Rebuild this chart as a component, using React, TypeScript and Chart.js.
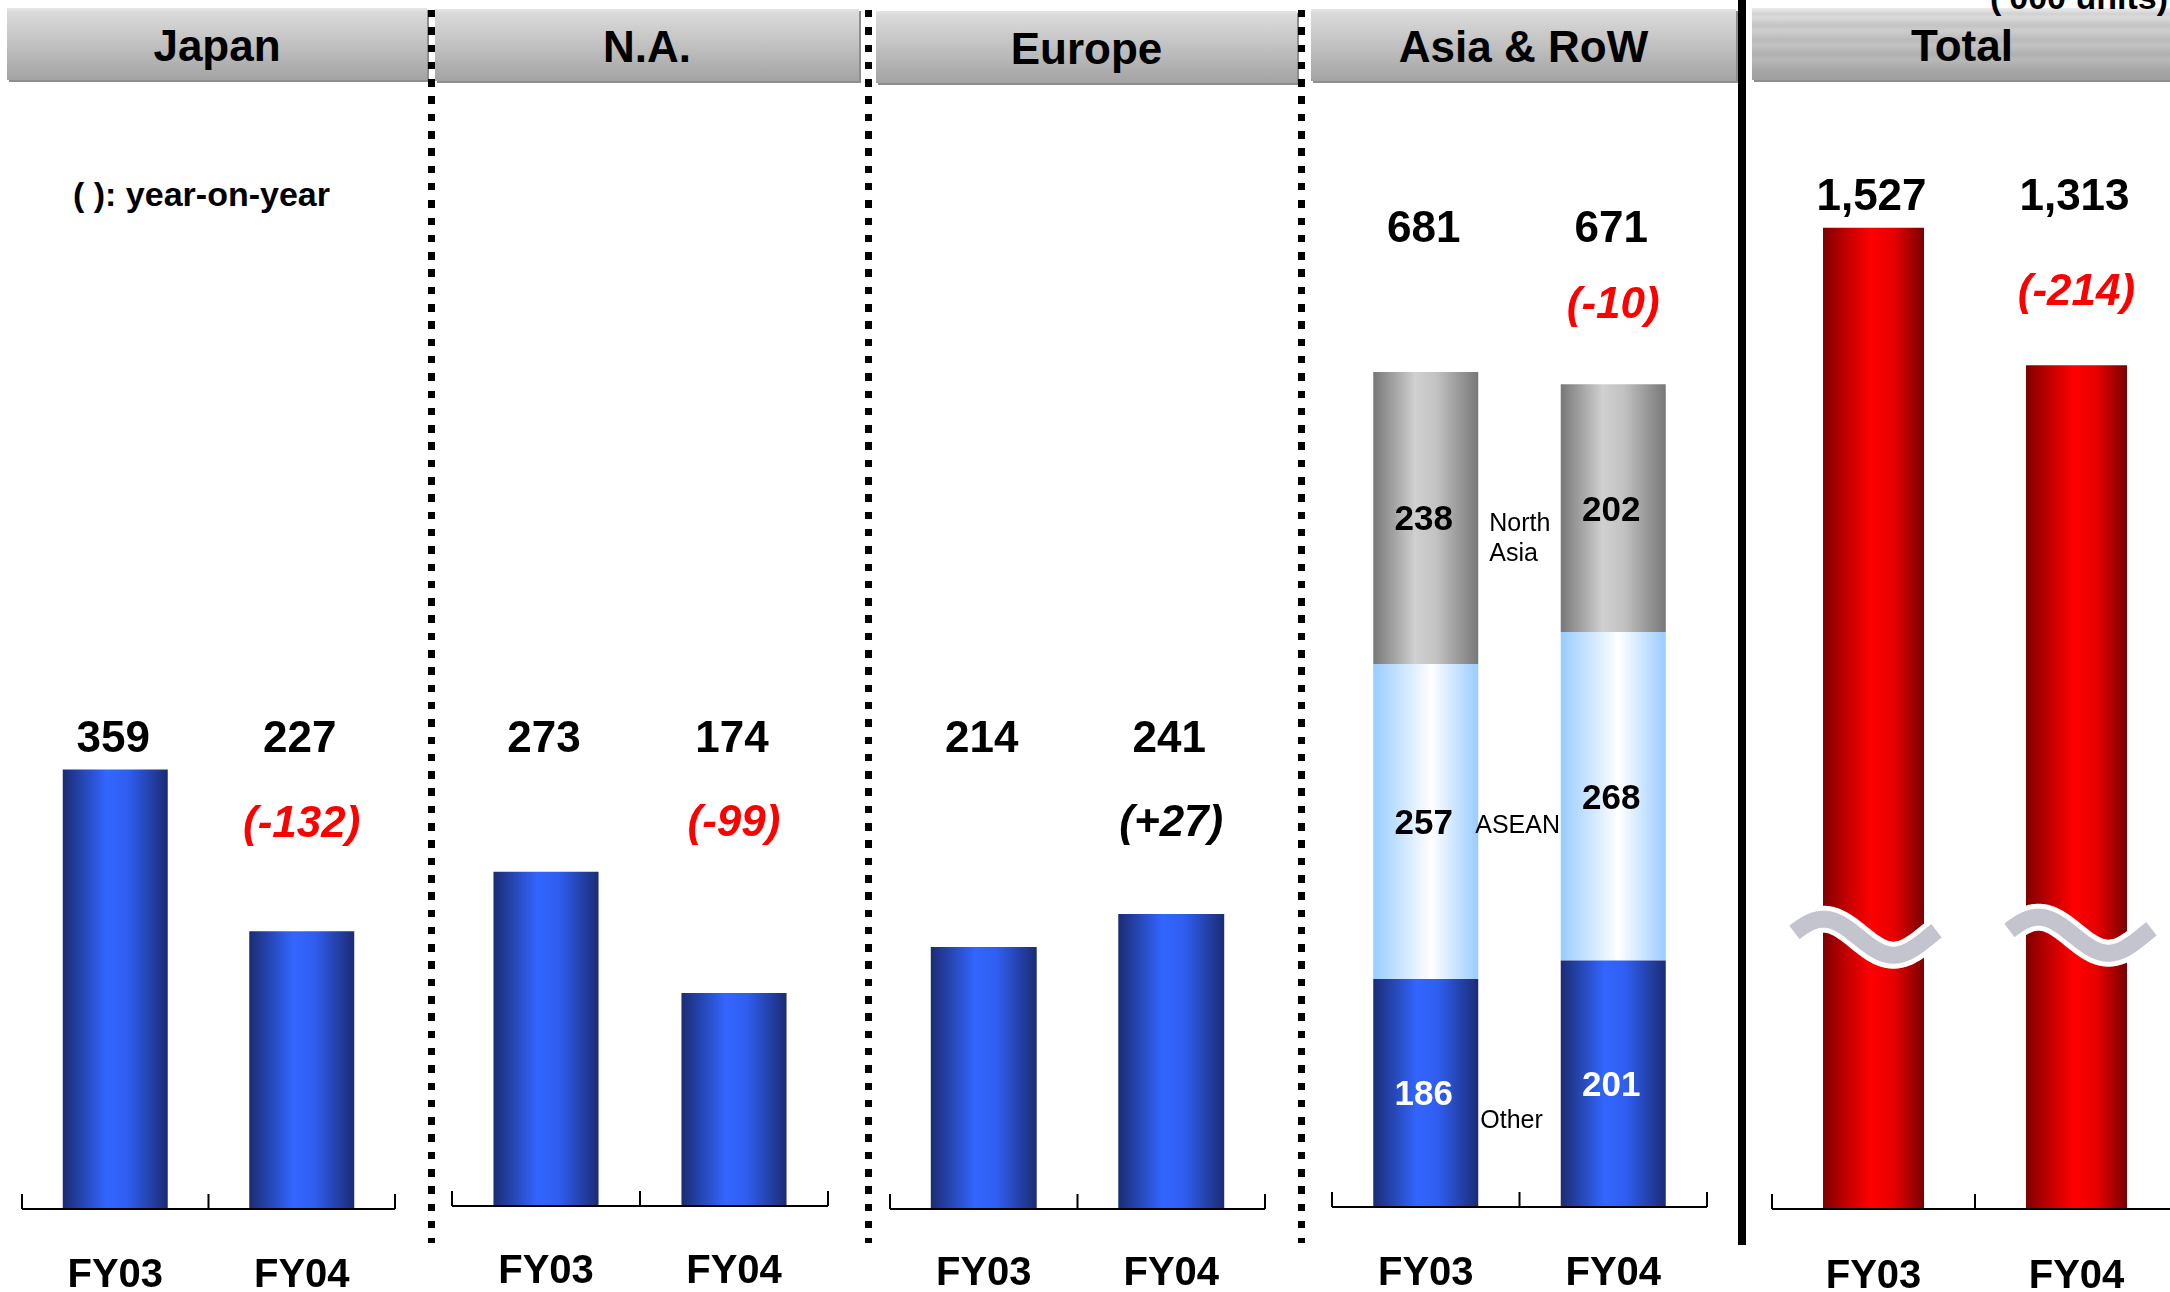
import React, { useEffect, useRef } from 'react';
import { Chart, registerables } from 'chart.js';

Chart.register(...registerables);

const FONT = "'Liberation Sans', Arial, Helvetica, sans-serif";

// ---------------- data ----------------
const categories = ['FY03', 'FY04'];
const panelTitles = ['Japan', 'N.A.', 'Europe', 'Asia & RoW', 'Total'];
const japanUnits = [359, 227];
const naUnits = [273, 174];
const europeUnits = [214, 241];
const asiaOther = [186, 201];
const asiaAsean = [257, 268];
const asiaNorthAsia = [238, 202];
const totalUnits = [1527, 1313];
const asiaSegmentNames = ['Other', 'ASEAN', 'North\nAsia'];
const unitNote = "('000 units)";
const yoyNote = '( ): year-on-year';
const totalBreakValue = 423;

// ---------------- styles ----------------
const BLUE: [number, string][] = [[0, '#1b2c74'], [0.42, '#3366ff'], [0.62, '#2f5ef0'], [1, '#1b2c74']];
const LIGHT: [number, string][] = [[0, '#99ccff'], [0.55, '#ffffff'], [1, '#99ccff']];
const GREY: [number, string][] = [[0, '#787878'], [0.4, '#d0d0d0'], [0.6, '#c2c2c2'], [1, '#777777']];
const RED: [number, string][] = [[0, '#800000'], [0.25, '#c80000'], [0.48, '#ff0000'], [0.7, '#e80000'], [1, '#7a0000']];

const PAD = 20;
const TOP = 100;
const H = 1292;

type Layout = {
  axisLeft: number; axisRight: number; baseline: number; pxPerUnit: number; catPct: number;
  valueY: number; changeY: number; catBaseline: number;
};

const layouts: Record<string, Layout> = {
  japan: { axisLeft: 22, axisRight: 395, baseline: 1209, pxPerUnit: 1.224, catPct: 0.563, valueY: 736, changeY: 821, catBaseline: 1287 },
  na: { axisLeft: 452, axisRight: 828, baseline: 1206, pxPerUnit: 1.224, catPct: 0.559, valueY: 736, changeY: 820, catBaseline: 1283 },
  europe: { axisLeft: 890, axisRight: 1265, baseline: 1209, pxPerUnit: 1.224, catPct: 0.565, valueY: 736, changeY: 820, catBaseline: 1285 },
  asia: { axisLeft: 1332, axisRight: 1707, baseline: 1207, pxPerUnit: 1.226, catPct: 0.56, valueY: 226, changeY: 302, catBaseline: 1285 },
  total: { axisLeft: 1772, axisRight: 2178, baseline: 1209, pxPerUnit: 0.6426, catPct: 0.4975, valueY: 194, changeY: 289, catBaseline: 1288 },
};

const headerBoxes = [
  { x: 7, y: 8, w: 420, h: 72 },
  { x: 435, y: 9, w: 424, h: 72 },
  { x: 876, y: 11, w: 421, h: 72 },
  { x: 1311, y: 9, w: 425, h: 72 },
  { x: 1752, y: 8, w: 420, h: 72 },
];

const dottedDividers = [431.5, 868, 1301];
const solidDivider = 1742;

const fmt = (v: number) => v.toLocaleString('en-US');

const gradientFill = (stops: [number, string][], catPct: number) => (c: any) => {
  const chart = c.chart;
  const xs = chart.scales && chart.scales.x;
  if (!xs || !chart.chartArea || c.dataIndex === undefined) return stops[1][1];
  const cx = xs.getPixelForValue(c.dataIndex);
  const w = (xs.width / categories.length) * catPct;
  const g = chart.ctx.createLinearGradient(cx - w / 2, 0, cx + w / 2, 0);
  stops.forEach(([o, col]) => g.addColorStop(o, col));
  return g;
};

type Spec = {
  key: string;
  layout: Layout;
  series: { name: string; data: number[]; fill: [number, string][] }[];
  stacked: boolean;
  totals: number[];
  extra?: (chart: any, layout: Layout) => void;
};

const drawBreak = (ctx: CanvasRenderingContext2D, cx: number, cy: number) => {
  ctx.beginPath();
  for (let t = -79; t <= 63; t += 2) {
    const px = cx + t;
    const py = cy + 18 * Math.sin((Math.PI * (t + 15)) / 70);
    if (t === -79) ctx.moveTo(px, py); else ctx.lineTo(px, py);
  }
  ctx.lineCap = 'butt';
  ctx.lineJoin = 'round';
  ctx.strokeStyle = '#ffffff';
  ctx.lineWidth = 27;
  ctx.stroke();
  ctx.strokeStyle = '#c3c4ce';
  ctx.lineWidth = 17;
  ctx.stroke();
};

const breakOffsets = [{ dx: 0, dy: 0 }, { dx: 12, dy: -2 }];

const asiaLegendOffsets = [
  { dx: 2, dy: 35 },
  { dx: -3, dy: 12 },
  { dx: 11, dy: 13.5 },
];

const asiaExtra = (chart: any, layout: Layout) => {
  const { ctx, scales: { x, y } } = chart;
  const w = (x.width / categories.length) * layout.catPct;
  const series = [asiaOther, asiaAsean, asiaNorthAsia];
  const colors = ['#ffffff', '#000000', '#000000'];
  ctx.textAlign = 'center';
  ctx.textBaseline = 'alphabetic';
  ctx.font = `bold 35px ${FONT}`;
  categories.forEach((_, i) => {
    let cum = 0;
    series.forEach((s, k) => {
      const mid = y.getPixelForValue(cum + s[i] / 2);
      cum += s[i];
      ctx.fillStyle = colors[k];
      ctx.fillText(String(s[i]), x.getPixelForValue(i) - 2, mid + 12.5);
    });
  });
  // segment names between bars
  ctx.font = `25px ${FONT}`;
  ctx.textAlign = 'left';
  ctx.fillStyle = '#000';
  const barRight = x.getPixelForValue(0) + w / 2;
  let cum = 0;
  series.forEach((s, k) => {
    const mid = y.getPixelForValue(cum + s[0] / 2);
    cum += s[0];
    const lines = asiaSegmentNames[k].split('\n');
    lines.forEach((ln, j) => {
      ctx.fillText(ln, barRight + asiaLegendOffsets[k].dx, mid + asiaLegendOffsets[k].dy + j * 30);
    });
  });
};

const totalExtra = (chart: any) => {
  const { ctx, scales: { x, y } } = chart;
  categories.forEach((_, i) => {
    drawBreak(ctx, x.getPixelForValue(i) + breakOffsets[i].dx, y.getPixelForValue(totalBreakValue) + breakOffsets[i].dy);
  });
};

const specs: Spec[] = [
  { key: 'japan', layout: layouts.japan, series: [{ name: panelTitles[0], data: japanUnits, fill: BLUE }], stacked: false, totals: japanUnits },
  { key: 'na', layout: layouts.na, series: [{ name: panelTitles[1], data: naUnits, fill: BLUE }], stacked: false, totals: naUnits },
  { key: 'europe', layout: layouts.europe, series: [{ name: panelTitles[2], data: europeUnits, fill: BLUE }], stacked: false, totals: europeUnits },
  {
    key: 'asia', layout: layouts.asia, stacked: true,
    series: [
      { name: asiaSegmentNames[0], data: asiaOther, fill: BLUE },
      { name: asiaSegmentNames[1], data: asiaAsean, fill: LIGHT },
      { name: asiaSegmentNames[2], data: asiaNorthAsia, fill: GREY },
    ],
    totals: categories.map((_, i) => asiaOther[i] + asiaAsean[i] + asiaNorthAsia[i]),
    extra: asiaExtra,
  },
  { key: 'total', layout: layouts.total, series: [{ name: panelTitles[4], data: totalUnits, fill: RED }], stacked: false, totals: totalUnits, extra: totalExtra },
];

function Panel({ spec }: { spec: Spec }) {
  const ref = useRef<HTMLCanvasElement | null>(null);
  const L = spec.layout;
  const width = L.axisRight - L.axisLeft + 2 * PAD;
  useEffect(() => {
    if (!ref.current) return;
    const overlay = {
      id: 'overlay_' + spec.key,
      afterDatasetsDraw(chart: any) {
        const { ctx, chartArea, scales: { x } } = chart;
        ctx.save();
        if (spec.extra) spec.extra(chart, L);
        // axis line with upward ticks
        const by = chartArea.bottom;
        const lx = x.getPixelForValue(-0.5);
        const mx = x.getPixelForValue(0.5);
        const rx = x.getPixelForValue(1.5);
        ctx.strokeStyle = '#000';
        ctx.lineWidth = 2;
        ctx.lineCap = 'butt';
        ctx.beginPath();
        ctx.moveTo(lx, by);
        ctx.lineTo(rx, by);
        [lx, mx, rx].forEach((t) => { ctx.moveTo(t, by); ctx.lineTo(t, by - 15); });
        ctx.stroke();
        // category labels
        ctx.fillStyle = '#000';
        ctx.textAlign = 'center';
        ctx.textBaseline = 'alphabetic';
        ctx.font = `bold 40px ${FONT}`;
        categories.forEach((c, i) => ctx.fillText(c, x.getPixelForValue(i), L.catBaseline));
        // value labels
        ctx.font = `bold 44px ${FONT}`;
        spec.totals.forEach((v, i) => ctx.fillText(fmt(v), x.getPixelForValue(i) - 2, L.valueY + 15.75));
        // year-on-year change
        const diff = spec.totals[1] - spec.totals[0];
        ctx.font = `italic bold 44px ${FONT}`;
        ctx.fillStyle = diff < 0 ? '#ff0000' : '#000000';
        ctx.fillText(`(${diff > 0 ? '+' : ''}${diff})`, x.getPixelForValue(1), L.changeY + 15.75);
        ctx.restore();
      },
    };
    const chart = new Chart(ref.current, {
      type: 'bar',
      data: {
        labels: categories,
        datasets: spec.series.map((s) => ({
          label: s.name,
          data: s.data,
          backgroundColor: gradientFill(s.fill, L.catPct),
          borderWidth: 0,
          categoryPercentage: L.catPct,
          barPercentage: 1,
        })),
      },
      options: {
        responsive: false,
        animation: false,
        devicePixelRatio: 1,
        events: [],
        layout: { padding: { left: PAD, right: PAD, top: TOP, bottom: H - L.baseline } },
        plugins: { legend: { display: false }, tooltip: { enabled: false }, title: { display: false } },
        scales: {
          x: { type: 'category', display: false, stacked: spec.stacked, offset: true },
          y: { type: 'linear', display: false, stacked: spec.stacked, min: 0, max: (L.baseline - TOP) / L.pxPerUnit },
        },
      } as any,
      plugins: [overlay],
    });
    return () => chart.destroy();
  }, []);
  return (
    <canvas
      ref={ref}
      width={width}
      height={H}
      style={{ position: 'absolute', left: L.axisLeft - PAD, top: 0, width, height: H }}
    />
  );
}

export default function App() {
  useEffect(() => {
    document.body.style.margin = '0';
  }, []);
  return (
    <div style={{ position: 'fixed', left: 0, top: 0, width: 2170, height: H, overflow: 'hidden', background: '#fff', fontFamily: FONT }}>
      {headerBoxes.map((b, i) => (
        <div
          key={'h' + i}
          style={{
            position: 'absolute', left: b.x, top: b.y, width: b.w, height: b.h,
            background: i === 4
              ? 'linear-gradient(to bottom, #ececec 0%, #d2d2d2 8%, #dadada 13%, #c4c4c4 24%, #cdcdcd 32%, #bababa 44%, #c2c2c2 52%, #b0b0b0 64%, #b8b8b8 72%, #a6a6a6 86%, #a0a0a0 100%)'
              : 'linear-gradient(to bottom, #e6e6e6 0%, #dadada 6%, #c4c4c4 45%, #a3a3a3 100%)',
            boxShadow: '2px 2px 0 #8e8e8e',
            textAlign: 'center', lineHeight: b.h + 'px', fontSize: 44, fontWeight: 'bold', color: '#000',
          }}
        >
          <span style={{ position: 'relative', top: 2 }}>{panelTitles[i]}</span>
        </div>
      ))}
      {dottedDividers.map((x, i) => (
        <div
          key={'d' + i}
          style={{
            position: 'absolute', left: x - 3.5, top: 10, width: 7, height: 1233,
            background: 'repeating-linear-gradient(to bottom, #000 0px, #000 7.5px, transparent 7.5px, transparent 17.3px)',
          }}
        />
      ))}
      <div style={{ position: 'absolute', left: solidDivider - 4, top: 0, width: 8, height: 1245, background: '#000' }} />
      <div style={{ position: 'absolute', right: 2, top: -20, fontSize: 34, lineHeight: '34px', fontWeight: 'bold', whiteSpace: 'nowrap' }}>{unitNote}</div>
      <div style={{ position: 'absolute', left: 73, top: 177, fontSize: 34, lineHeight: '34px', fontWeight: 'bold', whiteSpace: 'nowrap' }}>{yoyNote}</div>
      {specs.map((s) => <Panel key={s.key} spec={s} />)}
    </div>
  );
}
